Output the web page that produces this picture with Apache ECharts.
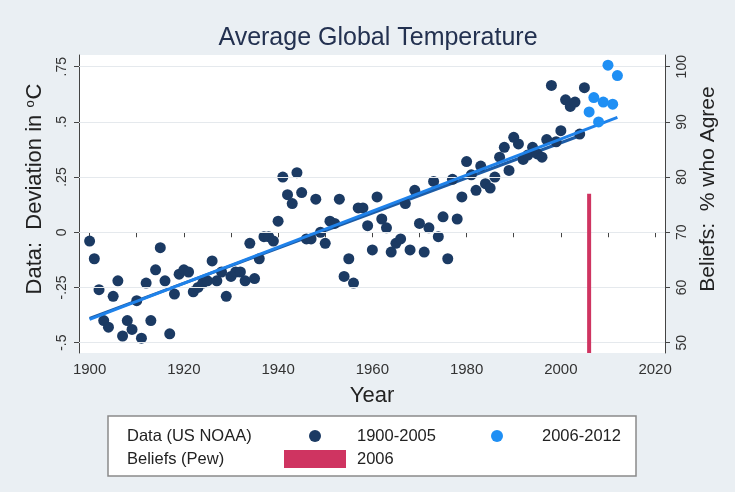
<!DOCTYPE html>
<html>
<head>
<meta charset="utf-8">
<script src="https://cdn.jsdelivr.net/npm/echarts@6/dist/echarts.min.js"></script>
<style>html,body{margin:0;padding:0;background:#eaeff3;}#c{width:735px;height:492px;}</style>
</head>
<body>
<div id="c"></div>
<script>
// ---- Data ----
const yearsNOAA1 = [
  1900,1901,1902,1903,1904,1905,1906,1907,1908,1909,
  1910,1911,1912,1913,1914,1915,1916,1917,1918,1919,
  1920,1921,1922,1923,1924,1925,1926,1927,1928,1929,
  1930,1931,1932,1933,1934,1935,1936,1937,1938,1939,
  1940,1941,1942,1943,1944,1945,1946,1947,1948,1949,
  1950,1951,1952,1953,1954,1955,1956,1957,1958,1959,
  1960,1961,1962,1963,1964,1965,1966,1967,1968,1969,
  1970,1971,1972,1973,1974,1975,1976,1977,1978,1979,
  1980,1981,1982,1983,1984,1985,1986,1987,1988,1989,
  1990,1991,1992,1993,1994,1995,1996,1997,1998,1999,
  2000,2001,2002,2003,2004,2005
];
const tempNOAA1 = [
  -0.04,-0.12,-0.26,-0.40,-0.43,-0.29,-0.22,-0.47,-0.40,-0.44,
  -0.31,-0.48,-0.23,-0.40,-0.17,-0.07,-0.22,-0.46,-0.28,-0.19,
  -0.17,-0.18,-0.27,-0.25,-0.23,-0.22,-0.13,-0.22,-0.18,-0.29,
  -0.20,-0.18,-0.18,-0.22,-0.05,-0.21,-0.12,-0.02,-0.02,-0.04,
   0.05, 0.25, 0.17, 0.13, 0.27, 0.18,-0.03,-0.03, 0.15, 0.00,
  -0.05, 0.05, 0.04, 0.15,-0.20,-0.12,-0.23, 0.11, 0.11, 0.03,
  -0.08, 0.16, 0.06, 0.02,-0.09,-0.05,-0.03, 0.13,-0.08, 0.19,
   0.04,-0.09, 0.02, 0.23,-0.02, 0.07,-0.12, 0.24, 0.06, 0.16,
   0.32, 0.26, 0.19, 0.30, 0.22, 0.20, 0.25, 0.34, 0.385,0.28,
   0.43, 0.40, 0.33, 0.35, 0.385,0.355,0.34, 0.42, 0.665,0.41,
   0.46, 0.60, 0.57, 0.59, 0.445,0.655
];
const yearsNOAA2 = [2006,2007,2008,2009,2010,2011,2012];
const tempNOAA2  = [0.545,0.61,0.50,0.59,0.757,0.58,0.71];

const fitAllYears = [1900, 2012];
const fitAllVals  = [-0.395, 0.52];
const fitEarlyYears = [1900, 2005];
const fitEarlyVals  = [-0.39, 0.445];

const pewYear = [2006];
const pewAgree = [77];

const xTickVals  = [1900,1910,1920,1930,1940,1950,1960,1970,1980,1990,2000,2010,2020];
const xLabelVals = [1900,1920,1940,1960,1980,2000,2020];
const yLeftTickVals   = [-0.5,-0.25,0,0.25,0.5,0.75];
const yLeftTickLabels = ['-.5','-.25','0','.25','.5','.75'];
const yRightTickVals  = [50,60,70,80,90,100];

// ---- Styles ----
const DARK = '#1b3a63', LIGHT = '#1f8ff4', RED = '#cf3461';
const FONT = '"Liberation Sans", Arial, sans-serif';

const pairs = (xs, ys) => xs.map((x, i) => [x, ys[i]]);

const chart = echarts.init(document.getElementById('c'), null, {renderer: 'canvas'});
chart.setOption({
  backgroundColor: '#eaeff3',
  animation: false,
  textStyle: {fontFamily: FONT},
  title: {
    text: 'Average Global Temperature',
    left: 373, top: 21, textAlign: 'center',
    textStyle: {fontSize: 25, fontWeight: 'normal', color: '#233150', fontFamily: FONT}
  },
  grid: {left: 79, right: 70, top: 55, bottom: 139, show: true, backgroundColor: '#ffffff', borderWidth: 0},
  xAxis: {
    type: 'value', min: 1897.75, max: 2022.1,
    axisLine: {show: true, lineStyle: {color: '#444', width: 1}},
    axisTick: {show: true, length: 5, customValues: xTickVals, lineStyle: {color: '#444'}},
    axisLabel: {customValues: xLabelVals, fontSize: 15, color: '#333', margin: 9, fontFamily: FONT,
      formatter: v => String(v)},
    splitLine: {show: false},
    name: 'Year', nameLocation: 'middle', nameGap: 32,
    nameTextStyle: {fontSize: 22, color: '#222', fontFamily: FONT}
  },
  yAxis: [{
    type: 'value', position: 'left', min: -0.547, max: 0.803,
    axisLine: {show: true, lineStyle: {color: '#444'}},
    axisTick: {show: true, length: 5, customValues: yLeftTickVals, lineStyle: {color: '#444'}},
    axisLabel: {customValues: yLeftTickVals, rotate: 90, fontSize: 14, color: '#333', margin: 10, fontFamily: FONT,
      formatter: v => { const i = yLeftTickVals.findIndex(t => Math.abs(t - v) < 1e-9); return i >= 0 ? yLeftTickLabels[i] : ''; }},
    splitLine: {show: false}
  }, {
    type: 'value', position: 'right', min: 48.12, max: 102.12,
    axisLine: {show: true, lineStyle: {color: '#444'}},
    axisTick: {show: true, length: 5, customValues: yRightTickVals, lineStyle: {color: '#444'}},
    axisLabel: {customValues: yRightTickVals, rotate: 90, fontSize: 14, color: '#333', margin: 10, fontFamily: FONT},
    splitLine: {show: false}
  }],
  series: [{
    type: 'scatter', name: 'grid', data: [], z: 1, silent: true,
    markLine: {
      silent: true, symbol: 'none', label: {show: false},
      lineStyle: {color: '#e5e9ed', width: 1, type: 'solid'},
      data: yLeftTickVals.map(v => ({yAxis: v}))
    }
  }, {
    type: 'line', name: 'Fit 1900-2005', data: pairs(fitEarlyYears, fitEarlyVals), z: 3,
    showSymbol: false, symbol: 'none', lineStyle: {color: '#1d5ca6', width: 3}
  }, {
    type: 'scatter', name: '1900-2005', data: pairs(yearsNOAA1, tempNOAA1), z: 4,
    symbolSize: 11, itemStyle: {color: DARK, opacity: 1}
  }, {
    type: 'line', name: 'Fit 1900-2012', data: pairs(fitAllYears, fitAllVals), z: 5,
    showSymbol: false, symbol: 'none', lineStyle: {color: '#1f82ea', width: 3}
  }, {
    type: 'scatter', name: '2006-2012', data: pairs(yearsNOAA2, tempNOAA2), z: 6,
    symbolSize: 11, itemStyle: {color: LIGHT, opacity: 1}
  }, {
    type: 'bar', name: '2006', yAxisIndex: 1, data: pairs(pewYear, pewAgree), z: 6,
    barWidth: 4, itemStyle: {color: RED}
  }],
  graphic: [
    {type: 'text', x: 35, y: 189, rotation: Math.PI / 2,
     style: {text: 'Data:  Deviation in {s|o}C', fill: '#222', font: '22px ' + FONT, align: 'center', verticalAlign: 'middle',
       rich: {s: {fontSize: 13, verticalAlign: 'top', padding: [0, 1, 10, 1], fontFamily: FONT}}}},
    {type: 'text', x: 708, y: 189, rotation: Math.PI / 2,
     style: {text: 'Beliefs:  % who Agree', fill: '#222', font: '21px ' + FONT, align: 'center', verticalAlign: 'middle'}},
    {type: 'group', children: [
      {type: 'rect', shape: {x: 108, y: 416, width: 528, height: 60}, style: {fill: '#fff', stroke: '#8a8a8a', lineWidth: 1.5}},
      {type: 'text', x: 127, y: 436, style: {text: 'Data (US NOAA)', fill: '#222', font: '16.5px ' + FONT, verticalAlign: 'middle'}},
      {type: 'circle', shape: {cx: 315, cy: 436, r: 6}, style: {fill: DARK}},
      {type: 'text', x: 357, y: 436, style: {text: '1900-2005', fill: '#222', font: '16.5px ' + FONT, verticalAlign: 'middle'}},
      {type: 'circle', shape: {cx: 497, cy: 436, r: 6}, style: {fill: LIGHT}},
      {type: 'text', x: 542, y: 436, style: {text: '2006-2012', fill: '#222', font: '16.5px ' + FONT, verticalAlign: 'middle'}},
      {type: 'text', x: 127, y: 459, style: {text: 'Beliefs (Pew)', fill: '#222', font: '16.5px ' + FONT, verticalAlign: 'middle'}},
      {type: 'rect', shape: {x: 284, y: 450, width: 62, height: 18}, style: {fill: RED}},
      {type: 'text', x: 357, y: 459, style: {text: '2006', fill: '#222', font: '16.5px ' + FONT, verticalAlign: 'middle'}}
    ]}
  ]
});
</script>
</body>
</html>
